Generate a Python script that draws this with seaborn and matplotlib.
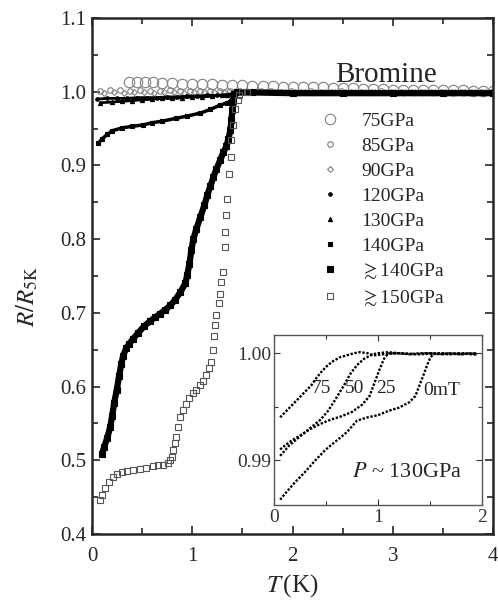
import matplotlib
matplotlib.use('Agg')
import matplotlib.pyplot as plt
import seaborn as sns
from matplotlib.lines import Line2D
from matplotlib.ticker import MultipleLocator, FormatStrFormatter

# ---- main panel data: T (K) vs R/R5K ----
t75 = [0.37, 0.45, 0.53, 0.61, 0.70, 0.80, 0.90, 1.00, 1.10, 1.20, 1.30, 1.40, 1.50, 1.60,
       1.70, 1.80, 1.90, 2.00, 2.10, 2.20, 2.30, 2.40, 2.50, 2.60, 2.70, 2.80, 2.90, 3.00,
       3.10, 3.20, 3.30, 3.40, 3.50, 3.60, 3.70, 3.80, 3.90, 4.00]
r75 = [1.013, 1.013, 1.013, 1.013, 1.012, 1.012, 1.011, 1.011, 1.010, 1.010, 1.009, 1.009,
       1.009, 1.008, 1.008, 1.008, 1.007, 1.007, 1.006, 1.006, 1.006, 1.005, 1.005, 1.005,
       1.004, 1.004, 1.004, 1.003, 1.003, 1.003, 1.003, 1.002, 1.002, 1.002, 1.002, 1.001,
       1.001, 1.001]

t85 = [0.08, 0.18, 0.28, 0.38, 0.48, 0.58, 0.68, 0.78, 0.88, 0.98, 1.08, 1.18, 1.28, 1.38,
       1.48, 1.58, 1.68, 1.78, 1.88, 1.98, 2.08, 2.18, 2.28, 2.38, 2.48, 2.58, 2.68, 2.78,
       2.88, 2.98, 3.08, 3.18, 3.28, 3.38, 3.48, 3.58, 3.68, 3.78, 3.88, 3.98]
r85 = [1.001, 1.002, 1.002, 1.001, 1.002, 1.001, 1.001, 1.002, 1.001, 1.001, 1.001, 1.001,
       1.001, 1.001, 1.001, 1.000, 1.001, 1.001, 1.000, 1.001, 1.000, 1.001, 1.000, 1.000,
       1.001, 1.000, 1.000, 1.000, 1.001, 1.000, 1.000, 1.000, 1.000, 1.000, 1.000, 1.000,
       1.000, 1.000, 1.000, 1.000]

t90 = [0.12, 0.22, 0.32, 0.42, 0.52, 0.62, 0.72, 0.82, 0.92, 1.02, 1.12, 1.22, 1.32, 1.42,
       1.52, 1.62, 1.72, 1.82, 1.92, 2.02, 2.12, 2.22, 2.32, 2.42, 2.52, 2.62, 2.72, 2.82,
       2.92, 3.02, 3.12, 3.22, 3.32, 3.42, 3.52, 3.62, 3.72, 3.82, 3.92]
r90 = [0.998, 0.999, 0.998, 0.999, 0.999, 0.998, 0.999, 0.999, 0.998, 0.999, 0.999, 0.999,
       0.999, 1.000, 1.000, 0.999, 1.000, 1.000, 0.999, 1.000, 1.000, 0.999, 1.000, 1.000,
       0.999, 1.000, 0.999, 1.000, 0.999, 0.999, 1.000, 0.999, 0.999, 0.999, 0.999, 0.999,
       0.999, 0.999, 0.999]

t120 = [0.05, 0.15, 0.25, 0.35, 0.45, 0.55, 0.65, 0.75, 0.85, 0.95, 1.05, 1.15, 1.25, 1.35,
        1.42, 1.50, 1.70, 2.00, 2.30, 2.60, 2.90, 3.20, 3.50, 3.80, 4.00]
r120 = [0.990, 0.991, 0.991, 0.991, 0.992, 0.992, 0.992, 0.993, 0.993, 0.994, 0.994, 0.995,
        0.995, 0.996, 0.998, 0.999, 0.999, 0.999, 0.999, 0.999, 0.999, 0.999, 0.998, 0.998,
        0.998]

t130 = [0.08, 0.20, 0.30, 0.40, 0.50, 0.60, 0.70, 0.80, 0.90, 1.00, 1.10, 1.20, 1.30, 1.35,
        1.40, 1.45, 1.50, 1.60, 1.80, 2.10, 2.40, 2.70, 3.00, 3.30, 3.60, 3.90]
r130 = [0.985, 0.986, 0.987, 0.988, 0.989, 0.990, 0.991, 0.991, 0.992, 0.993, 0.993, 0.994,
        0.995, 0.996, 0.997, 0.999, 1.000, 1.000, 1.000, 0.999, 0.999, 0.999, 0.999, 0.999,
        0.998, 0.998]

t140 = [0.06, 0.10, 0.15, 0.20, 0.30, 0.40, 0.51, 0.60, 0.70, 0.84, 0.95, 1.08, 1.18, 1.28,
        1.35, 1.39, 1.41, 1.45, 1.60, 1.90, 2.20, 2.50, 2.80, 3.10, 3.40, 3.70, 4.00]
r140 = [0.930, 0.936, 0.942, 0.947, 0.951, 0.953, 0.955, 0.958, 0.960, 0.964, 0.967, 0.971,
        0.976, 0.982, 0.985, 0.988, 0.996, 0.999, 0.999, 0.999, 0.998, 0.998, 0.998, 0.998,
        0.998, 0.998, 0.998]

t140p = [0.10, 0.12, 0.15, 0.18, 0.20, 0.22, 0.245, 0.27, 0.29, 0.31, 0.34, 0.37, 0.41, 0.46,
         0.52, 0.58, 0.63, 0.68, 0.73, 0.78, 0.83, 0.88, 0.93, 0.95, 0.97, 0.99, 1.01, 1.04,
         1.08, 1.12, 1.15, 1.18, 1.21, 1.24, 1.28, 1.31, 1.34, 1.36, 1.38, 1.39, 1.40, 1.41,
         1.42, 1.45, 1.60, 2.00, 2.50, 3.00, 3.50, 4.00]
r140p = [0.509, 0.518, 0.530, 0.545, 0.560, 0.578, 0.595, 0.615, 0.630, 0.642, 0.652, 0.658,
         0.665, 0.673, 0.682, 0.689, 0.694, 0.699, 0.704, 0.710, 0.718, 0.728, 0.740, 0.752,
         0.766, 0.785, 0.800, 0.814, 0.830, 0.846, 0.860, 0.872, 0.884, 0.895, 0.908, 0.918,
         0.926, 0.936, 0.948, 0.962, 0.975, 0.988, 0.997, 0.999, 0.999, 0.998, 0.998, 0.998,
         0.998, 0.998]

t150 = [0.08, 0.10, 0.13, 0.17, 0.21, 0.25, 0.30, 0.35, 0.41, 0.48, 0.54, 0.61, 0.66, 0.71,
        0.76, 0.78, 0.80, 0.81, 0.83, 0.84, 0.86, 0.88, 0.91, 0.94, 0.97, 1.01, 1.04, 1.08,
        1.11, 1.14, 1.17, 1.19, 1.21, 1.22, 1.23, 1.24, 1.27, 1.28, 1.29, 1.31, 1.33, 1.33,
        1.34, 1.35, 1.37, 1.39, 1.39, 1.41, 1.43, 1.46, 1.47, 1.50, 1.55]
r150 = [0.446, 0.453, 0.462, 0.470, 0.478, 0.481, 0.484, 0.485, 0.487, 0.488, 0.490, 0.492,
        0.493, 0.494, 0.496, 0.500, 0.505, 0.514, 0.523, 0.532, 0.545, 0.559, 0.568, 0.577,
        0.585, 0.591, 0.596, 0.602, 0.608, 0.616, 0.625, 0.634, 0.650, 0.668, 0.683, 0.697,
        0.713, 0.726, 0.742, 0.756, 0.790, 0.810, 0.833, 0.855, 0.889, 0.912, 0.934, 0.955,
        0.977, 0.989, 0.995, 0.999, 1.000]

# ---- inset data: P ~ 130 GPa under field ----
tin0 = [0.06, 0.12, 0.20, 0.30, 0.40, 0.50, 0.60, 0.70, 0.80, 0.90, 1.00, 1.10, 1.20, 1.30,
        1.36, 1.40, 1.44, 1.47, 1.50, 1.53, 1.60, 1.70, 1.80, 1.90, 1.95]
rin0 = [0.9863, 0.9870, 0.9879, 0.9889, 0.9900, 0.9910, 0.9918, 0.9926, 0.9937, 0.9940,
        0.9942, 0.9946, 0.9949, 0.9954, 0.9960, 0.9970, 0.9980, 0.9988, 0.9995, 0.9999,
        1.0000, 0.9999, 1.0000, 0.9999, 0.9999]
tin25 = [0.06, 0.15, 0.25, 0.35, 0.45, 0.55, 0.65, 0.75, 0.85, 0.92, 0.97, 1.02, 1.06, 1.10,
         1.20, 1.30, 1.40, 1.50, 1.60, 1.70, 1.80, 1.90, 1.95]
rin25 = [0.9910, 0.9917, 0.9923, 0.9929, 0.9934, 0.9938, 0.9941, 0.9945, 0.9952, 0.9960,
         0.9973, 0.9986, 0.9995, 1.0000, 1.0000, 0.9999, 1.0000, 1.0000, 0.9999, 1.0000,
         0.9999, 1.0000, 0.9999]
tin50 = [0.06, 0.15, 0.25, 0.35, 0.45, 0.52, 0.58, 0.63, 0.68, 0.73, 0.80, 0.87, 0.95, 1.00,
         1.10, 1.20, 1.40, 1.60, 1.80, 1.95]
rin50 = [0.9904, 0.9914, 0.9922, 0.9930, 0.9938, 0.9946, 0.9955, 0.9963, 0.9971, 0.9980,
         0.9989, 0.9995, 0.9999, 1.0000, 1.0001, 1.0000, 0.9999, 1.0000, 0.9999, 1.0000]
tin75 = [0.06, 0.12, 0.19, 0.25, 0.31, 0.36, 0.41, 0.46, 0.51, 0.56, 0.63, 0.70, 0.77, 0.83,
         0.90, 0.96, 1.05, 1.20, 1.35, 1.50, 1.65, 1.80, 1.95]
rin75 = [0.9940, 0.9946, 0.9953, 0.9959, 0.9965, 0.9970, 0.9977, 0.9983, 0.9988, 0.9992,
         0.9996, 0.9998, 1.0000, 1.0001, 1.0000, 0.9998, 0.9999, 1.0000, 0.9999, 1.0000,
         0.9999, 1.0000, 0.9999]

field_labels = ['75', '50', '25', '0mT']

sns.set_style('ticks')
plt.rcParams['font.family'] = ['Liberation Serif', 'DejaVu Serif']
plt.rcParams['mathtext.fontset'] = 'stix'

gray = '#808080'
fig = plt.figure(figsize=(4.98, 6.0), dpi=100)
ax = fig.add_axes([0.185, 0.11, 0.805, 0.86])

# (label, t, r, marker, size, face, edge, connecting line width)
series = [
    ('75GPa', t75, r75, 'o', 7.5, 'none', gray, 0),
    ('85GPa', t85, r85, 'o', 4.0, 'none', gray, 0),
    ('90GPa', t90, r90, 'D', 3.0, 'none', gray, 0),
    ('120GPa', t120, r120, 'o', 2.5, 'k', 'k', 2.0),
    ('130GPa', t130, r130, '^', 3.0, 'k', 'k', 2.0),
    ('140GPa', t140, r140, 's', 3.0, 'k', 'k', 2.5),
    (r'$\gtrsim$140GPa', t140p, r140p, 's', 4.5, 'k', 'k', 4.5),
    (r'$\gtrsim$150GPa', t150, r150, 's', 5.0, 'none', '#555555', 0),
]

handles = []
for label, t, r, mk, ms, fc, ec, lw in series:
    if lw:
        sns.lineplot(x=t, y=r, ax=ax, color=ec, lw=lw, sort=False, estimator=None)
    sns.lineplot(x=t, y=r, ax=ax, linestyle='none', marker=mk, markersize=ms,
                 markerfacecolor=fc, markeredgecolor=ec, markeredgewidth=0.8,
                 sort=False, estimator=None)
    handles.append(Line2D([], [], linestyle='none', marker=mk, markersize=ms,
                          markerfacecolor=fc, markeredgecolor=ec, markeredgewidth=0.8,
                          label=label))

ax.set_xlim(0, 4)
ax.set_ylim(0.4, 1.1)
ax.xaxis.set_major_locator(MultipleLocator(1))
ax.xaxis.set_minor_locator(MultipleLocator(0.5))
ax.yaxis.set_major_locator(MultipleLocator(0.1))
ax.yaxis.set_minor_locator(MultipleLocator(0.05))
ax.yaxis.set_major_formatter(FormatStrFormatter('%.1f'))
ax.tick_params(which='both', direction='in', top=True, right=True, width=1.2, labelsize=15)
ax.tick_params(which='major', length=6)
ax.tick_params(which='minor', length=4)
ax.tick_params(axis='x', pad=9.5)
ax.tick_params(axis='y', pad=4)
for s in ax.spines.values():
    s.set_linewidth(1.8)
ax.set_xlabel(r'$T\,$(K)', fontsize=18, labelpad=4)
ax.set_ylabel(r'$R/R_{\mathrm{5K}}$', fontsize=18)
ax.yaxis.set_label_coords(-0.13, 0.46)

ax.text(0.733, 0.89, 'Bromine', transform=ax.transAxes, ha='center', va='center', fontsize=21)

ax.legend(handles=handles, loc='upper left', bbox_to_anchor=(0.57, 0.818), frameon=False,
          fontsize=14, handlelength=1.0, handletextpad=1.1, labelspacing=0.38,
          borderpad=0, borderaxespad=0)

# ---- inset ----
ins = fig.add_axes([0.550, 0.1583, 0.4177, 0.2833])
for t, r in [(tin0, rin0), (tin25, rin25), (tin50, rin50), (tin75, rin75)]:
    sns.lineplot(x=t, y=r, ax=ins, color='k', lw=1.7, linestyle=(0, (1, 0.7)),
                 sort=False, estimator=None)
ins.set_xlim(0, 2)
ins.set_ylim(0.9858, 1.0017)
ins.xaxis.set_major_locator(MultipleLocator(1))
ins.xaxis.set_minor_locator(MultipleLocator(0.5))
ins.yaxis.set_major_locator(MultipleLocator(0.01))
ins.yaxis.set_minor_locator(MultipleLocator(0.005))
ins.yaxis.set_major_formatter(FormatStrFormatter('%.2f'))
ins.tick_params(which='both', direction='in', top=True, right=True, width=0.8,
                labelsize=14, colors='#333333')
ins.tick_params(which='major', length=4)
ins.tick_params(which='minor', length=3)
ins.tick_params(axis='x', pad=3)
ins.tick_params(axis='y', pad=2)
for s in ins.spines.values():
    s.set_linewidth(1.0)
    s.set_color('#555555')
ins.set_xlabel('')
ins.set_ylabel('')

for lbl, x, y in zip(field_labels, [0.46, 0.78, 1.08, 1.61],
                     [0.9967, 0.9967, 0.9967, 0.9965]):
    ins.text(x, y, lbl, ha='center', va='center', fontsize=14)
ins.text(1.28, 0.9888, r'$P$ ~ 130GPa', ha='center', va='center', fontsize=16)

fig.savefig('out.png', dpi=100)
